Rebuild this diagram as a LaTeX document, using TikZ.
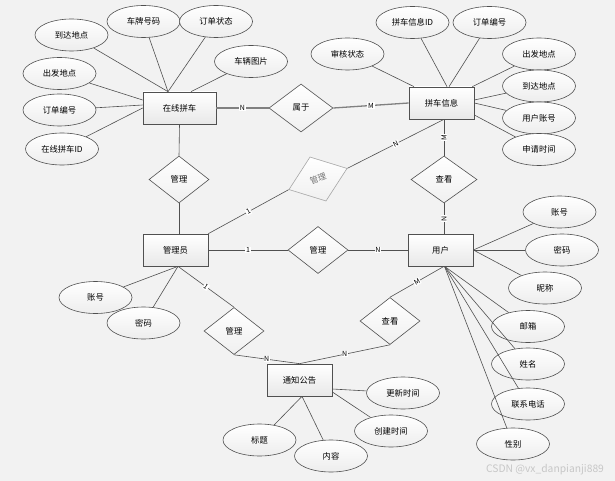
\documentclass[tikz,border=0pt]{standalone}
\usepackage{fontspec}
\setmainfont{Noto Sans CJK SC}
\usetikzlibrary{shapes.geometric,shadows}
\definecolor{bgc}{HTML}{F2F2F2}
\definecolor{lnc}{HTML}{505050}
\tikzset{
  ent/.style={rectangle, draw=lnc, line width=0.7pt, top color=white, bottom color=black!9,
    minimum width=65pt, minimum height=32pt, inner sep=0pt,
    drop shadow={shadow xshift=1pt, shadow yshift=-1pt, fill=black!40, opacity=0.5},
    font=\fontsize{8.3}{10}\selectfont},
  attr/.style={ellipse, draw=lnc, line width=0.6pt, top color=white, bottom color=black!7,
    minimum width=73pt, minimum height=32pt, inner sep=0pt,
    font=\fontsize{8.3}{10}\selectfont},
  rel/.style={diamond, draw=lnc, line width=0.6pt, top color=white, bottom color=black!6,
    minimum width=60pt, minimum height=47pt, inner sep=0pt,
    font=\fontsize{8.3}{10}\selectfont},
  conn/.style={draw=lnc, line width=0.6pt},
  thickconn/.style={draw=black!50, line width=1.3pt},
  lbl/.style={fill=white, inner sep=0.7pt, font=\fontsize{7}{8}\selectfont}
}
\begin{document}
\begin{tikzpicture}[x=1pt,y=-1pt]
\fill[bgc] (0,0) rectangle (615,481);
\useasboundingbox (0,0) rectangle (615,481);

% entities
\node[ent, minimum width=73pt] (zx) at (179.5,108) {在线拼车};
\node[ent] (pc) at (441.5,103) {拼车信息};
\node[ent] (gly) at (175.5,250) {管理员};
\node[ent] (yh) at (440.5,250) {用户};
\node[ent] (tz) at (299.5,380) {通知公告};

% relationships
\node[rel, minimum width=64pt, minimum height=48pt] (sy) at (301,108) {属于};
\node[rel] (gl1) at (179,179.5) {管理};
\node[rel, minimum width=66pt] (ck1) at (444,179.5) {查看};
\node[rel] (gl2) at (318,250) {管理};
\node[rel, minimum width=62pt, draw=black!35, text=black!55, rotate=20] (gd) at (318,179) {管理};
\node[rel] (gl3) at (234,331) {管理};
\node[rel] (ck2) at (390,321) {查看};

% attributes of 在线拼车
\node[attr] (a1) at (71.5,35) {到达地点};
\node[attr] (a2) at (143.5,21.5) {车牌号码};
\node[attr] (a3) at (216,21.5) {订单状态};
\node[attr] (a4) at (251,61.5) {车辆图片};
\node[attr] (a5) at (59.5,73.5) {出发地点};
\node[attr] (a6) at (59.5,110) {订单编号};
\node[attr] (a7) at (62,149) {在线拼车ID};

% attributes of 拼车信息
\node[attr] (b1) at (347.5,54) {审核状态};
\node[attr] (b2) at (412.5,22.5) {拼车信息ID};
\node[attr] (b3) at (489.5,22.5) {订单编号};
\node[attr] (b4) at (539,54) {出发地点};
\node[attr] (b5) at (539,86) {到达地点};
\node[attr] (b6) at (539,118) {用户账号};
\node[attr] (b7) at (539,149.5) {申请时间};

% attributes of 管理员
\node[attr] (c1) at (95.5,297.5) {账号};
\node[attr] (c2) at (143.5,323) {密码};

% attributes of 用户
\node[attr] (d1) at (559.5,212) {账号};
\node[attr] (d2) at (562,250) {密码};
\node[attr] (d3) at (545,288) {昵称};
\node[attr] (d4) at (528,326.5) {邮箱};
\node[attr] (d5) at (528,364) {姓名};
\node[attr] (d6) at (528,404) {联系电话};
\node[attr] (d7) at (513,444) {性别};

% attributes of 通知公告
\node[attr] (e1) at (403,393) {更新时间};
\node[attr] (e2) at (391,431) {创建时间};
\node[attr] (e3) at (331,456) {内容};
\node[attr] (e4) at (259.5,440) {标题};

% attribute connectors
\draw[conn] (a1) -- ([xshift=-11.5pt]zx.north);
\draw[conn] (a2) -- ([xshift=-11.5pt]zx.north);
\draw[conn] (a3) -- ([xshift=-11.5pt]zx.north);
\draw[conn] (a4) -- ([xshift=11.5pt]zx.north);
\draw[conn] (a5) -- ([yshift=8pt]zx.west);
\draw[conn] (a6) -- ([yshift=3pt]zx.west);
\draw[conn] (a7) -- (zx.west);

\draw[conn] (b1) -- ([xshift=-27.5pt]pc.north);
\draw[conn] (b2) -- ([xshift=5.5pt]pc.north);
\draw[conn] (b3) -- ([xshift=7.5pt]pc.north);
\draw[conn] (b4) -- ([xshift=-2pt]pc.north east);
\draw[conn] (b5) -- ([yshift=3pt]pc.east);
\draw[conn] (b6) -- (pc.east);
\draw[conn] (b7) -- ([yshift=-12pt]pc.east);

\draw[conn] (c1) -- ([xshift=2.5pt]gly.south);
\draw[conn] (c2) -- ([xshift=2.5pt]gly.south);

\draw[conn] (d1) -- (yh.east);
\draw[conn] (d2) -- (yh.east);
\draw[conn] (d3) -- (yh.east);
\draw[conn] (d4) -- ([xshift=4pt]yh.south);
\draw[conn] (d5) -- ([xshift=4pt]yh.south);
\draw[conn] (d6) -- ([xshift=4pt]yh.south);
\draw[conn] (d7) -- ([xshift=4pt]yh.south);

\draw[conn] (e1) -- ([yshift=-9pt]tz.east);
\draw[conn] (e2) -- ([yshift=-12pt]tz.east);
\draw[conn] (e3) -- ([xshift=2.5pt]tz.south);
\draw[conn] (e4) -- ([xshift=2.5pt]tz.south);

% relationship connectors
\draw[thickconn] (zx.east) -- node[lbl] {N} (sy.west);
\draw[thickconn] (sy.east) -- node[lbl] {M} (pc.west);

\draw[conn] (zx.south) -- (gl1.north);
\draw[conn] (gl1.south) -- (gl1.south |- gly.north);

\draw[conn] ([xshift=2.5pt]pc.south) -- node[lbl, rotate=90] {M} (ck1.north);
\draw[conn] (ck1.south) -- node[lbl, rotate=90] {N} (ck1.south |- yh.north);

\draw[conn] (gly.north east) -- node[lbl, sloped] {1} (gd.west);
\draw[conn] (gd.east) -- node[lbl, sloped] {N} ([xshift=2.5pt]pc.south);

\draw[conn] (gly.east) -- node[lbl] {1} (gl2.west);
\draw[conn] (gl2.east) -- node[lbl] {N} (yh.west);

\draw[conn] ([xshift=2.5pt]gly.south) -- node[lbl, sloped] {1} (gl3.north);
\draw[conn] (gl3.south) -- node[lbl] {N} (tz.north);

\draw[conn] ([xshift=3.5pt]yh.south) -- node[lbl, sloped] {M} (ck2.north);
\draw[conn] (ck2.south) -- node[lbl] {N} (tz.north);

% watermark
\node[text=black!22, font=\fontsize{10.3}{11}\selectfont] (wm) at (545,470) {CSDN @vx\_danpianji889};
\end{tikzpicture}
\end{document}
